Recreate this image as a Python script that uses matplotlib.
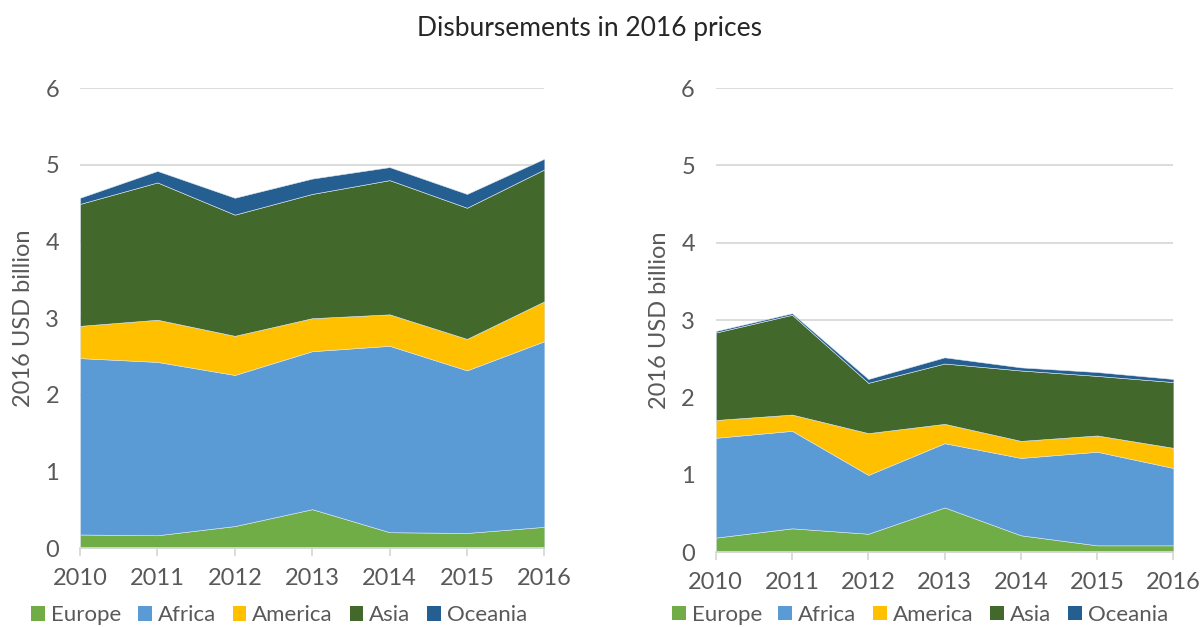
import numpy as np
import matplotlib
matplotlib.use("Agg")
import matplotlib.pyplot as plt
from matplotlib.patches import Patch

plt.rcParams['font.family'] = ['Lato', 'DejaVu Sans']

years = [2010, 2011, 2012, 2013, 2014, 2015, 2016]
regions = ['Europe', 'Africa', 'America', 'Asia', 'Oceania']
colors = ['#70AD47', '#5B9BD5', '#FFC000', '#43682B', '#255E91']

# left panel, USD billion
left_europe = [0.18, 0.17, 0.29, 0.51, 0.21, 0.20, 0.28]
left_africa = [2.30, 2.26, 1.97, 2.06, 2.43, 2.12, 2.42]
left_america = [0.42, 0.55, 0.51, 0.43, 0.41, 0.41, 0.52]
left_asia = [1.59, 1.79, 1.58, 1.62, 1.75, 1.71, 1.72]
left_oceania = [0.08, 0.15, 0.22, 0.20, 0.17, 0.18, 0.14]

# right panel, USD billion
right_europe = [0.19, 0.31, 0.24, 0.58, 0.22, 0.09, 0.09]
right_africa = [1.29, 1.26, 0.76, 0.83, 1.00, 1.21, 1.00]
right_america = [0.23, 0.21, 0.54, 0.25, 0.22, 0.21, 0.26]
right_asia = [1.13, 1.29, 0.65, 0.78, 0.91, 0.77, 0.85]
right_oceania = [0.02, 0.02, 0.05, 0.08, 0.04, 0.05, 0.04]

grey = '#595959'

fig = plt.figure(figsize=(12.03, 6.27), dpi=100)
ax1 = fig.add_axes([0.0665, 0.1255, 0.386, 0.734])
ax2 = fig.add_axes([0.595, 0.1191, 0.3804, 0.7405])

panels = [
    (ax1, [left_europe, left_africa, left_america, left_asia, left_oceania], (0.429, -0.124)),
    (ax2, [right_europe, right_africa, right_america, right_asia, right_oceania], (0.446, -0.113)),
]

for ax, data, legpos in panels:
    ax.stackplot(years, *data, colors=colors, edgecolor='#dce6f0',
                 linewidth=0.4, zorder=2)
    ax.set_xlim(2010, 2016)
    ax.set_ylim(0, 6)
    ax.set_yticks(range(7))
    ax.set_xticks(years)
    ax.grid(axis='y', color='#d9d9d9', linewidth=1.3, zorder=0)
    ax.set_axisbelow(True)
    for s in ['top', 'right', 'left']:
        ax.spines[s].set_visible(False)
    ax.spines['bottom'].set_color('#d9d9d9')
    ax.spines['bottom'].set_linewidth(1.3)
    ax.spines['bottom'].set_zorder(3)
    ax.tick_params(axis='x', colors='#d9d9d9', labelcolor=grey, length=6,
                   width=1.3, labelsize=17, pad=8)
    ax.tick_params(axis='y', length=0, labelcolor=grey, labelsize=17, pad=15)
    ax.set_ylabel('2016 USD billion', color=grey, fontsize=17, labelpad=8)
    handles = [Patch(facecolor=c, label=r) for c, r in zip(colors, regions)]
    leg = ax.legend(handles=handles, loc='upper center',
                    bbox_to_anchor=legpos, ncol=5, frameon=False,
                    fontsize=16, handlelength=0.62, handleheight=0.62,
                    handletextpad=0.27, columnspacing=0.75,
                    borderaxespad=0, borderpad=0)
    for t in leg.get_texts():
        t.set_color(grey)

fig.text(0.49, 0.955, 'Disbursements in 2016 prices', ha='center', va='center',
         fontsize=19, color='#262626')

fig.savefig('out.png', dpi=100)
